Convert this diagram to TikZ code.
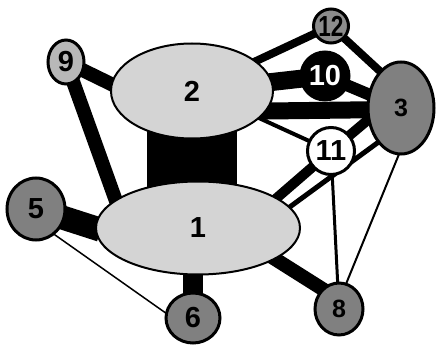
\documentclass[tikz,border=0pt]{standalone}
\usepackage{fontspec}
\usepackage{graphicx}
\setmainfont{Liberation Sans}
\usetikzlibrary{backgrounds,shapes.geometric}
\newcommand\digitfont{\fontsize{29}{29}\selectfont\bfseries}
\newcommand\smalldigitfont{\fontsize{25}{25}\selectfont\bfseries}

\tikzset{
  bignode/.style={ellipse, draw, line width=2pt, fill=black!17, inner sep=0pt, font=\digitfont},
  darknode/.style={ellipse, draw, line width=3pt, fill=black!50, inner sep=0pt, font=\digitfont},
  band/.style={draw=black, line width=#1, line cap=butt, shorten <=-6pt, shorten >=-6pt},
}

\begin{document}
\begin{tikzpicture}[x=1pt,y=-1pt]
\useasboundingbox (0,0) rectangle (437,345);

% nodes
\node[bignode, minimum width=162pt, minimum height=95pt] (n2) at (192,91) {2};
\node[bignode, minimum width=204pt, minimum height=93pt] (n1) at (198,228) {1};
\node[darknode, fill=black!28, minimum width=36pt, minimum height=44pt] (n9) at (66,62) {9};
\node[darknode, minimum width=58pt, minimum height=62pt] (n5) at (36,209) {5};
\node[darknode, minimum width=54pt, minimum height=50pt] (n6) at (193,318) {6};
\node[darknode, minimum width=48pt, minimum height=52pt, font=\smalldigitfont] (n8) at (339,309) {8};
\node[darknode, minimum width=66pt, minimum height=92pt, font=\smalldigitfont] (n3) at (401,108) {3};
\node[darknode, fill=black!45, minimum width=35pt, minimum height=34pt] (n12) at (331,26) {\makebox[0pt]{\scalebox{0.78}[1]{12}}};
\node[darknode, fill=black, text=white, minimum width=48pt, minimum height=48pt] (n10) at (325,76) {10};
\node[darknode, fill=white, minimum width=47pt, minimum height=47pt] (n11) at (331,151) {11};

% connectors, behind the nodes
\begin{scope}[on background layer]
  \draw[band=90pt, shorten <=0pt, shorten >=0pt] (n2.center) -- (n2.center |- n1.center);
  \draw[band=14pt] (n9) -- (n2.175);
  \draw[band=14pt] (n9) -- (n1.161);
  \draw[band=24pt] (n5) -- (n1.west);
  \draw[band=1.5pt] (n5.-54) -- (n6.169);
  \draw[band=20pt, shorten <=0pt, shorten >=0pt] (n6.center) -- (n6.center |- n1.center);
  \draw[band=14pt] (n1.-22) -- (n8.130);
  \draw[band=8pt] (n2) -- (n12);
  \draw[band=8pt] (n12) -- (n3.120);
  \draw[band=18pt] (n2) -- (n10);
  \draw[band=12pt] (n10) -- (n3);
  \draw[band=17pt] (n2.-15) -- (n3.183);
  \draw[band=10pt] (n11) -- (n3.200);
  \draw[band=4pt] (n2.-22) -- (n11);
  \draw[band=10pt] (n11) -- (n1.21);
  \draw[band=5pt] (n1.13) -- (n3.-124);
  \draw[band=3pt] (n11) -- (n8);
  \draw[band=2pt] (n3.-93) -- (n8.74);
\end{scope}
\end{tikzpicture}
\end{document}
